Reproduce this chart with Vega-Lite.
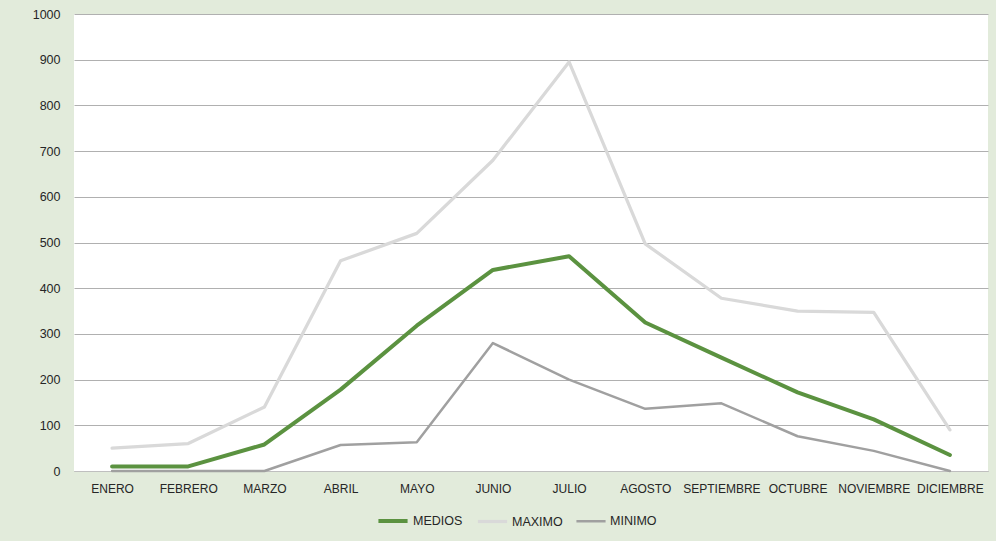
{
  "$schema": "https://vega.github.io/schema/vega-lite/v6.json",
  "width": 914,
  "height": 457,
  "autosize": {"type": "none"},
  "padding": {"left": 74, "top": 14, "right": 8, "bottom": 70},
  "background": "#e2ebdb",
  "config": {
    "view": {"fill": "white", "stroke": null},
    "font": "Liberation Sans"
  },
  "data": {
    "values": [
      {"mes": "ENERO", "serie": "MAXIMO", "valor": 50},
      {"mes": "FEBRERO", "serie": "MAXIMO", "valor": 60},
      {"mes": "MARZO", "serie": "MAXIMO", "valor": 140},
      {"mes": "ABRIL", "serie": "MAXIMO", "valor": 460},
      {"mes": "MAYO", "serie": "MAXIMO", "valor": 520},
      {"mes": "JUNIO", "serie": "MAXIMO", "valor": 680},
      {"mes": "JULIO", "serie": "MAXIMO", "valor": 895},
      {"mes": "AGOSTO", "serie": "MAXIMO", "valor": 497},
      {"mes": "SEPTIEMBRE", "serie": "MAXIMO", "valor": 378},
      {"mes": "OCTUBRE", "serie": "MAXIMO", "valor": 350},
      {"mes": "NOVIEMBRE", "serie": "MAXIMO", "valor": 347},
      {"mes": "DICIEMBRE", "serie": "MAXIMO", "valor": 90},
      {"mes": "ENERO", "serie": "MINIMO", "valor": 0},
      {"mes": "FEBRERO", "serie": "MINIMO", "valor": 0},
      {"mes": "MARZO", "serie": "MINIMO", "valor": 0},
      {"mes": "ABRIL", "serie": "MINIMO", "valor": 57},
      {"mes": "MAYO", "serie": "MINIMO", "valor": 63},
      {"mes": "JUNIO", "serie": "MINIMO", "valor": 280},
      {"mes": "JULIO", "serie": "MINIMO", "valor": 200},
      {"mes": "AGOSTO", "serie": "MINIMO", "valor": 136},
      {"mes": "SEPTIEMBRE", "serie": "MINIMO", "valor": 148},
      {"mes": "OCTUBRE", "serie": "MINIMO", "valor": 76},
      {"mes": "NOVIEMBRE", "serie": "MINIMO", "valor": 44},
      {"mes": "DICIEMBRE", "serie": "MINIMO", "valor": 0},
      {"mes": "ENERO", "serie": "MEDIOS", "valor": 10},
      {"mes": "FEBRERO", "serie": "MEDIOS", "valor": 10},
      {"mes": "MARZO", "serie": "MEDIOS", "valor": 58},
      {"mes": "ABRIL", "serie": "MEDIOS", "valor": 178},
      {"mes": "MAYO", "serie": "MEDIOS", "valor": 318},
      {"mes": "JUNIO", "serie": "MEDIOS", "valor": 440},
      {"mes": "JULIO", "serie": "MEDIOS", "valor": 470},
      {"mes": "AGOSTO", "serie": "MEDIOS", "valor": 325},
      {"mes": "SEPTIEMBRE", "serie": "MEDIOS", "valor": 248},
      {"mes": "OCTUBRE", "serie": "MEDIOS", "valor": 172},
      {"mes": "NOVIEMBRE", "serie": "MEDIOS", "valor": 113},
      {"mes": "DICIEMBRE", "serie": "MEDIOS", "valor": 35}
    ]
  },
  "mark": {"type": "line", "strokeJoin": "round", "strokeCap": "round"},
  "encoding": {
    "x": {
      "field": "mes",
      "type": "ordinal",
      "sort": null,
      "scale": {"paddingInner": 0, "paddingOuter": 0.5},
      "axis": {
        "title": null,
        "labelAngle": 0,
        "ticks": false,
        "domain": true,
        "domainColor": "#bfbfbf",
        "labelPadding": 12,
        "labelFontSize": 12,
        "labelColor": "#262626",
        "labelOverlap": false,
        "grid": false
      }
    },
    "y": {
      "field": "valor",
      "type": "quantitative",
      "scale": {"domain": [0, 1000]},
      "axis": {
        "title": null,
        "values": [0, 100, 200, 300, 400, 500, 600, 700, 800, 900, 1000],
        "format": "d",
        "labelOverlap": false,
        "ticks": false,
        "domain": false,
        "labelPadding": 14,
        "labelFontSize": 12.5,
        "labelColor": "#262626",
        "gridColor": "#b0b0b0",
        "gridWidth": 1
      }
    },
    "color": {
      "field": "serie",
      "type": "nominal",
      "scale": {"domain": ["MEDIOS", "MAXIMO", "MINIMO"], "range": ["#5b9240", "#d9d9d9", "#a0a0a0"]},
      "legend": {
        "title": null,
        "orient": "none",
        "legendX": 302,
        "legendY": 490,
        "direction": "horizontal",
        "symbolType": "stroke",
        "symbolSize": 850,
        "symbolStrokeWidth": 3,
        "labelFontSize": 12.5,
        "labelColor": "#262626",
        "columnPadding": 8,
        "labelOffset": 3
      }
    },
    "strokeWidth": {
      "field": "serie",
      "type": "nominal",
      "scale": {"domain": ["MEDIOS", "MAXIMO", "MINIMO"], "range": [4, 2.5, 2.5]},
      "legend": null
    },
    "order": {"field": "serie", "sort": "ascending"}
  }
}
